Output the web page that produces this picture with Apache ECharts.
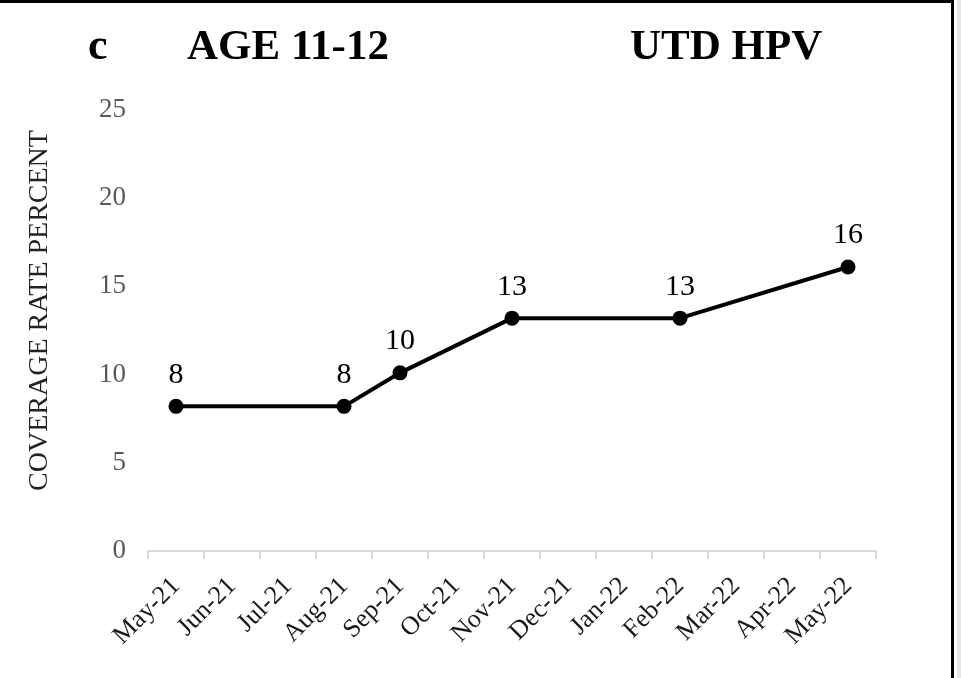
<!DOCTYPE html>
<html>
<head>
<meta charset="utf-8">
<script src="https://cdn.jsdelivr.net/npm/echarts@6/dist/echarts.min.js"></script>
<style>
  body { margin: 0; background: #fff; }
  #frame { position: absolute; left: 0; top: 0; width: 954px; height: 678px; border-top: 3px solid #000; border-right: 3px solid #000; box-sizing: border-box; pointer-events: none; z-index: 10; }
  #edge { position: absolute; left: 957px; top: 0; width: 4px; height: 678px; background: #e6e6e6; }
</style>
</head>
<body>
<div id="chart" style="width: 961px;height: 678px;"></div>
<div id="frame"></div>
<div id="edge"></div>
<script>
// months on the x axis
const months = ['May-21', 'Jun-21', 'Jul-21', 'Aug-21', 'Sep-21', 'Oct-21', 'Nov-21',
  'Dec-21', 'Jan-22', 'Feb-22', 'Mar-22', 'Apr-22', 'May-22']
// coverage rate (percent), null = no measurement that month
const coverage = [8.2, null, null, 8.2, 10.1, null, 13.2, null, null, 13.2, null, null, 16.1]
const yTicks = [0, 5, 10, 15, 20, 25]

const serif = 'Liberation Serif'
const chart = echarts.init(document.getElementById('chart'))
chart.setOption({
  animation: false,
  title: [
    { text: 'c', left: 83, top: 21, textStyle: { fontFamily: serif, fontWeight: 'bold', fontSize: 44, color: '#000' } },
    { text: 'AGE 11-12', left: 182, top: 21, textStyle: { fontFamily: serif, fontWeight: 'bold', fontSize: 43, color: '#000' } },
    { text: 'UTD HPV', left: 625, top: 21, textStyle: { fontFamily: serif, fontWeight: 'bold', fontSize: 43, color: '#000' } }
  ],
  grid: { left: 148, right: 85, top: 110, bottom: 127, containLabel: false },
  xAxis: {
    type: 'category',
    data: months,
    boundaryGap: true,
    axisLine: { lineStyle: { color: '#d9d9d9', width: 2 } },
    axisTick: { show: true, length: 8, lineStyle: { color: '#d9d9d9', width: 2 } },
    axisLabel: {
      rotate: 45,
      interval: 0,
      margin: 31,
      fontFamily: serif,
      fontSize: 26,
      color: '#1a1a1a'
    }
  },
  yAxis: {
    type: 'value',
    min: yTicks[0],
    max: yTicks[yTicks.length - 1],
    interval: 5,
    name: 'COVERAGE RATE PERCENT',
    nameLocation: 'middle',
    nameGap: 94,
    nameTextStyle: { fontFamily: serif, fontSize: 28, color: '#222', padding: [0, 0, 0, 40] },
    axisLine: { show: false },
    axisTick: { show: false },
    splitLine: { show: false },
    axisLabel: { margin: 22, fontFamily: serif, fontSize: 27, color: '#595959' }
  },
  series: [{
    type: 'line',
    data: coverage,
    connectNulls: true,
    symbol: 'circle',
    symbolSize: 15,
    lineStyle: { color: '#000', width: 4 },
    itemStyle: { color: '#000' },
    label: {
      show: true,
      position: 'top',
      distance: 9,
      fontFamily: serif,
      fontSize: 30,
      color: '#000',
      formatter: function(p) {
        return Math.round(p.value)
      }
    }
  }]
})
</script>
</body>
</html>
